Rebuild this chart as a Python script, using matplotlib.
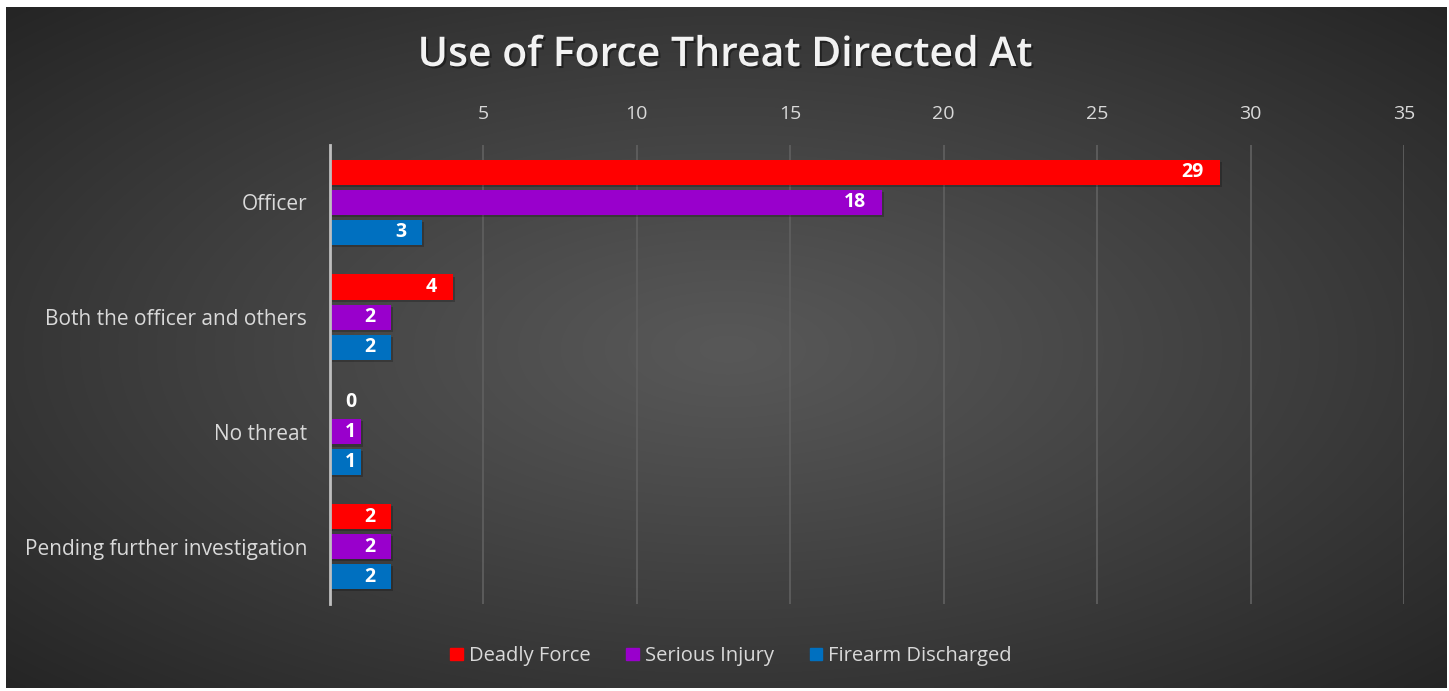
import numpy as np
import matplotlib
matplotlib.use("Agg")
import matplotlib.pyplot as plt
from matplotlib import patheffects as pe
from matplotlib.patches import Rectangle

categories = ["Officer", "Both the officer and others", "No threat", "Pending further investigation"]
series_names = ["Deadly Force", "Serious Injury", "Firearm Discharged"]
deadly_force = [29, 4, 0, 2]
serious_injury = [18, 2, 1, 2]
firearm_discharged = [3, 2, 1, 2]
series_values = [deadly_force, serious_injury, firearm_discharged]
colors = ["#FF0000", "#9900CC", "#0070C0"]
xticks = [5, 10, 15, 20, 25, 30, 35]

W, H = 1449, 691
fig = plt.figure(figsize=(W / 100, H / 100), dpi=100)
fig.patch.set_facecolor("white")

# background panel with radial gradient
x0, y0, x1, y1 = 6, 7, 1447, 688
bg = fig.add_axes([x0 / W, 1 - y1 / H, (x1 - x0) / W, (y1 - y0) / H])
bg.set_axis_off()
yy, xx = np.mgrid[0:200, 0:400]
cx, cy = 200, 100
r = np.sqrt(((xx - cx) / 200.0) ** 2 + ((yy - cy) / 100.0) ** 2) / np.sqrt(2)
inner = np.array([0x58, 0x58, 0x58]) / 255.0
outer = np.array([0x25, 0x25, 0x25]) / 255.0
t = np.clip(r, 0, 1)[..., None] ** 1.1
img = inner * (1 - t) + outer * t
bg.imshow(img, aspect="auto", extent=[0, 1, 0, 1], interpolation="bilinear")
bg.set_xlim(0, 1)
bg.set_ylim(0, 1)

# main axes
ax_l, ax_r, ax_t, ax_b = 330, 1404, 145, 604
ax = fig.add_axes([ax_l / W, 1 - ax_b / H, (ax_r - ax_l) / W, (ax_b - ax_t) / H])
ax.set_facecolor("none")
ax.set_xlim(0, 35)
ax.set_ylim(3.5, -0.5)

n = len(categories)
y = np.arange(n)
bar_h = 0.22
offset = 0.262
shadow = [pe.SimplePatchShadow(offset=(1.5, -1.5), shadow_rgbFace="black", alpha=0.22), pe.Normal()]
for i, (vals, col) in enumerate(zip(series_values, colors)):
    pos = y + (i - 1) * offset
    bars = ax.barh(pos, vals, height=bar_h, color=col, zorder=3)
    for b in bars:
        b.set_path_effects(shadow)
    for p, v in zip(pos, vals):
        if v == 0:
            ax.annotate(str(v), xy=(0, p), xytext=(15, 0), textcoords="offset points",
                        ha="center", va="center", color="white",
                        fontsize=14, fontweight="bold", family="Open Sans", zorder=4)
        else:
            dx = -3.5 if v < 1.5 else -11.5
            ax.annotate(str(v), xy=(v, p), xytext=(dx, 0), textcoords="offset points",
                        ha="right", va="center", color="white",
                        fontsize=14, fontweight="bold", family="Open Sans", zorder=4)

ax.set_xticks(xticks)
ax.xaxis.tick_top()
ax.tick_params(axis="x", length=0, pad=16, labelsize=14, labelcolor="#D9D9D9")
ax.set_yticks(y)
ax.set_yticklabels(categories)
ax.tick_params(axis="y", length=0, pad=16.5, labelsize=15, labelcolor="#D9D9D9")
for lab in ax.get_xticklabels() + ax.get_yticklabels():
    lab.set_family("Open Sans")
ax.grid(axis="x", color="#5E5E5E", linewidth=1.3, zorder=0)
ax.set_axisbelow(True)
for s in ["top", "right", "bottom"]:
    ax.spines[s].set_visible(False)
ax.spines["left"].set_color("#BFBFBF")
ax.spines["left"].set_linewidth(2)
ax.spines["left"].set_zorder(5)

# title
fig.text(725 / W, 1 - 55 / H, "Use of Force Threat Directed At", ha="center", va="center",
         color="#F2F2F2", fontsize=29.5, fontweight="semibold", family="Open Sans",
         path_effects=[pe.withSimplePatchShadow(offset=(1.5, -1.5), shadow_rgbFace="black", alpha=0.4)])

# legend
handles = [Rectangle((0, 0), 1, 1, color=c) for c in colors]
leg = fig.legend(handles, series_names, loc="center", bbox_to_anchor=(731 / W, 1 - 656 / H),
                 ncol=3, frameon=False, handlelength=0.6, handleheight=0.6,
                 handletextpad=0.3, columnspacing=1.8, labelcolor="#D9D9D9",
                 prop={"family": "Open Sans", "size": 14.5})

fig.savefig("out.png", dpi=100, facecolor="white")
